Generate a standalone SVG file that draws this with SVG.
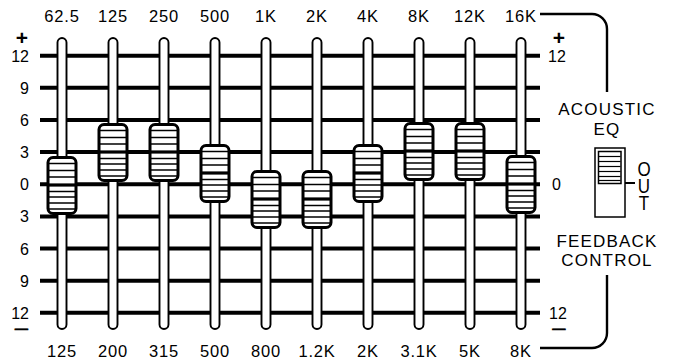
<svg xmlns="http://www.w3.org/2000/svg" xmlns:xlink="http://www.w3.org/1999/xlink" width="673" height="363" viewBox="0 0 673 363">
<style>
text{font-family:"Liberation Sans",Arial,Helvetica,sans-serif;fill:#000}
.f{font-size:16.5px;letter-spacing:0.8px;text-anchor:middle}
.sl{font-size:16px;text-anchor:end}
.sr{font-size:16px;text-anchor:start}
.w{font-size:17px;letter-spacing:1.2px;text-anchor:middle}
.pm{font-size:21px;font-weight:bold;text-anchor:middle}
.mn{font-size:11px;font-weight:bold;text-anchor:middle;stroke:#000;stroke-width:0.5px}
.vt{font-size:17px;letter-spacing:-5px;writing-mode:vertical-rl;text-orientation:upright;text-anchor:start}
.grid{stroke:#000;stroke-width:4}
.track{fill:#fff;stroke:#000;stroke-width:1.9}
.brk{fill:none;stroke:#000;stroke-width:2.4}
</style>
<defs>
<g id="knob">
<rect x="-14" y="-27.5" width="28" height="56" rx="5" fill="#fff" stroke="#000" stroke-width="3"/>
<g stroke="#000" stroke-width="1.5">
<line x1="-13" y1="-21.5" x2="13" y2="-21.5"/>
<line x1="-13" y1="-14.5" x2="13" y2="-14.5"/>
<line x1="-13" y1="-8" x2="13" y2="-8"/>
<line x1="-13" y1="6.5" x2="13" y2="6.5"/>
<line x1="-13" y1="12" x2="13" y2="12"/>
<line x1="-13" y1="18" x2="13" y2="18"/>
<line x1="-13" y1="24" x2="13" y2="24"/>
</g>
<line x1="-13" y1="0" x2="13" y2="0" stroke="#000" stroke-width="3.2"/>
</g>
</defs>
<rect width="673" height="363" fill="#fff"/>

<g id="grid">
<line class="grid" x1="40" y1="55.7" x2="540" y2="55.7"/>
<line class="grid" x1="40" y1="87.8" x2="540" y2="87.8"/>
<line class="grid" x1="40" y1="120" x2="540" y2="120"/>
<line class="grid" x1="40" y1="152.1" x2="540" y2="152.1"/>
<line class="grid" x1="40" y1="184.3" x2="540" y2="184.3"/>
<line class="grid" x1="40" y1="216.4" x2="540" y2="216.4"/>
<line class="grid" x1="40" y1="248.6" x2="540" y2="248.6"/>
<line class="grid" x1="40" y1="280.7" x2="540" y2="280.7"/>
<line class="grid" x1="40" y1="312.8" x2="540" y2="312.8"/>
</g>

<g id="scale-left">
<text class="pm" x="22" y="45">+</text>
<text class="sl" x="29" y="61.7">12</text>
<text class="sl" x="29" y="93.8">9</text>
<text class="sl" x="29" y="126">6</text>
<text class="sl" x="29" y="158.1">3</text>
<text class="sl" x="29" y="190.3">0</text>
<text class="sl" x="29" y="222.4">3</text>
<text class="sl" x="29" y="254.6">6</text>
<text class="sl" x="29" y="286.7">9</text>
<text class="sl" x="29" y="318.8">12</text>
<text class="mn" transform="translate(21.5,332.5) scale(2.3,1)">−</text>
</g>

<g id="scale-right">
<text class="pm" x="559" y="45">+</text>
<text class="sr" x="548" y="61.7">12</text>
<text class="sr" x="552" y="190.3">0</text>
<text class="sr" x="549" y="318.8">12</text>
<text class="mn" transform="translate(559,332.5) scale(2.3,1)">−</text>
</g>

<g id="slider-1"><rect class="track" x="57.5" y="38" width="9" height="291" rx="4.5"/><use xlink:href="#knob" href="#knob" x="62" y="185"/><text class="f" x="62" y="22">62.5</text><text class="f" x="62" y="357">125</text></g>
<g id="slider-2"><rect class="track" x="108.5" y="38" width="9" height="291" rx="4.5"/><use xlink:href="#knob" href="#knob" x="113" y="152"/><text class="f" x="113" y="22">125</text><text class="f" x="113" y="357">200</text></g>
<g id="slider-3"><rect class="track" x="159.5" y="38" width="9" height="291" rx="4.5"/><use xlink:href="#knob" href="#knob" x="164" y="152"/><text class="f" x="164" y="22">250</text><text class="f" x="164" y="357">315</text></g>
<g id="slider-4"><rect class="track" x="210.5" y="38" width="9" height="291" rx="4.5"/><use xlink:href="#knob" href="#knob" x="215" y="173"/><text class="f" x="215" y="22">500</text><text class="f" x="215" y="357">500</text></g>
<g id="slider-5"><rect class="track" x="261.5" y="38" width="9" height="291" rx="4.5"/><use xlink:href="#knob" href="#knob" x="266" y="199"/><text class="f" x="266" y="22">1K</text><text class="f" x="266" y="357">800</text></g>
<g id="slider-6"><rect class="track" x="312.5" y="38" width="9" height="291" rx="4.5"/><use xlink:href="#knob" href="#knob" x="317" y="199"/><text class="f" x="317" y="22">2K</text><text class="f" x="317" y="357">1.2K</text></g>
<g id="slider-7"><rect class="track" x="363.5" y="38" width="9" height="291" rx="4.5"/><use xlink:href="#knob" href="#knob" x="368" y="173"/><text class="f" x="368" y="22">4K</text><text class="f" x="368" y="357">2K</text></g>
<g id="slider-8"><rect class="track" x="414.5" y="38" width="9" height="291" rx="4.5"/><use xlink:href="#knob" href="#knob" x="419" y="151"/><text class="f" x="419" y="22">8K</text><text class="f" x="419" y="357">3.1K</text></g>
<g id="slider-9"><rect class="track" x="465.5" y="38" width="9" height="291" rx="4.5"/><use xlink:href="#knob" href="#knob" x="470" y="151"/><text class="f" x="470" y="22">12K</text><text class="f" x="470" y="357">5K</text></g>
<g id="slider-10"><rect class="track" x="516.5" y="38" width="9" height="291" rx="4.5"/><use xlink:href="#knob" href="#knob" x="521" y="184"/><text class="f" x="521" y="22">16K</text><text class="f" x="521" y="357">8K</text></g>

<g id="connectors">
<path class="brk" d="M540 14 H592 A15 15 0 0 1 607 29 V92"/>
<path class="brk" d="M540 348 H592 A15 15 0 0 0 607 333 V275"/>
<line x1="625" y1="183" x2="635" y2="183" stroke="#000" stroke-width="2"/>
</g>

<g id="label-acoustic">
<text class="w" x="607" y="115">ACOUSTIC</text>
<text class="w" x="607" y="135">EQ</text>
</g>

<g id="switch">
<rect x="595" y="148" width="30" height="69" fill="#fff" stroke="#000" stroke-width="1.5"/>
<rect x="598.5" y="151.5" width="22.5" height="32" fill="#fff" stroke="#000" stroke-width="1.5"/>
<g stroke="#000" stroke-width="1.2">
<line x1="599" y1="156.5" x2="620.5" y2="156.5"/>
<line x1="599" y1="161.5" x2="620.5" y2="161.5"/>
<line x1="599" y1="166.5" x2="620.5" y2="166.5"/>
<line x1="599" y1="171.5" x2="620.5" y2="171.5"/>
<line x1="599" y1="176.5" x2="620.5" y2="176.5"/>
<line x1="599" y1="180.5" x2="620.5" y2="180.5"/>
</g>
</g>

<g id="label-out">
<text class="vt" transform="translate(644,158) scale(1,1.2)" x="0" y="0">OUT</text>
</g>

<g id="label-feedback">
<text class="w" x="607" y="246.5">FEEDBACK</text>
<text class="w" x="607" y="265.5">CONTROL</text>
</g>
</svg>
